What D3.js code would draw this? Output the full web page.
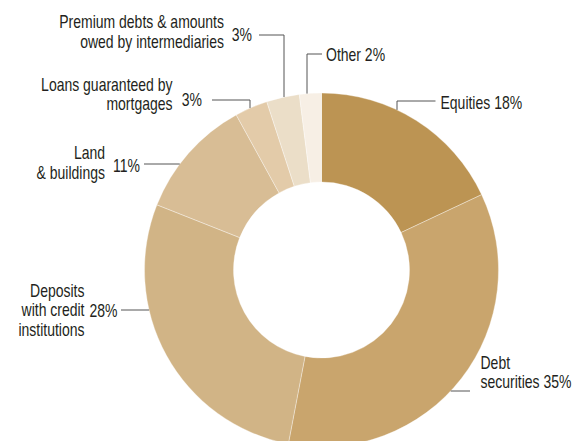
<!DOCTYPE html>
<html>
<head>
<meta charset="utf-8">
<script src="https://cdn.jsdelivr.net/npm/d3@7/dist/d3.min.js"></script>
<style>
  html, body { margin: 0; padding: 0; background: #fff; }
  svg { display: block; }
  text { font-family: "Liberation Sans", Arial, sans-serif; font-size: 17.5px; fill: #231f20; }
</style>
</head>
<body>
<script>
// Asset allocation shares (percent), clockwise from 12 o'clock
const categories = [
  "Equities",
  "Debt securities",
  "Deposits with credit institutions",
  "Land & buildings",
  "Loans guaranteed by mortgages",
  "Premium debts & amounts owed by intermediaries",
  "Other"
];
const shares = [18, 35, 28, 11, 3, 3, 2];
const colors = ["#bc9453", "#c9a56d", "#d1b486", "#d8bd95", "#e3cba9", "#ebdec8", "#f7efe5"];

// Label text lines for each category
const labelLines = [
  ["Equities"],
  ["Debt", "securities"],
  ["Deposits", "with credit", "institutions"],
  ["Land", "& buildings"],
  ["Loans guaranteed by", "mortgages"],
  ["Premium debts & amounts", "owed by intermediaries"],
  ["Other"]
];

const W = 573, H = 441;
const cx = 321.5, cy = 270, R = 177, r = 88;
const squeeze = 0.8; // condensed lettering

const svg = d3.select("body").append("svg").attr("width", W).attr("height", H);
const g = svg.append("g").attr("transform", `translate(${cx},${cy})`);

const data = categories.map((c, i) => ({ name: c, value: shares[i], color: colors[i], lines: labelLines[i] }));

const pie = d3.pie().value(d => d.value).sort(null);
const arc = d3.arc().innerRadius(r).outerRadius(R);
const arcs = pie(data);

g.selectAll("path.slice")
  .data(arcs)
  .enter().append("path")
  .attr("class", "slice")
  .attr("d", arc)
  .attr("fill", d => d.data.color)
  .attr("stroke", "#ffffff")
  .attr("stroke-opacity", 0.7)
  .attr("stroke-width", 0.5);

// Leader layout relative to the centre: elbow point, free end, and how the line meets the ring
const leaders = [
  { elbow: [75.5, -169], end: [114, -169], dir: "v", text: { x: 119, y: -161, mode: "inline" } },
  { elbow: [148.5, 121], dir: "hR", text: { x: 159, y: 118, mode: "lastline" } },
  { elbow: [-200.5, 40], dir: "hL", text: { mode: "side", valueX: -204, valueY: 46.7, labelX: -237, y: 26.7 } },
  { elbow: [-177.5, -106], dir: "hL", text: { mode: "side", valueX: -181.5, valueY: -98.5, labelX: -216.5, y: -111 } },
  { elbow: [-71.5, -170], end: [-109.5, -170], dir: "v", text: { mode: "side", valueX: -119.5, valueY: -164.5, labelX: -149, y: -179.5 } },
  { elbow: [-37.5, -235], end: [-62.5, -235], dir: "v", text: { mode: "side", valueX: -69.5, valueY: -229.5, labelX: -97.5, y: -242 } },
  { elbow: [-14.5, -216], end: [0.5, -216], dir: "v", text: { x: 4.5, y: -209.5, mode: "inline" } }
];

const lineH = 19.5;
const lg = g.append("g");

function label(x, y, str, anchor) {
  lg.append("text")
    .attr("transform", `translate(${x},${y}) scale(${squeeze},1)`)
    .attr("text-anchor", anchor || "start")
    .text(str);
}

arcs.forEach((a, i) => {
  const L = leaders[i];
  const d = a.data;
  const pct = d.value + "%";
  let pts;
  if (L.dir === "v") {
    // vertical drop from the elbow onto the outer edge of the ring
    const x = L.elbow[0];
    pts = [L.end, L.elbow, [x, -Math.sqrt(R * R - x * x)]];
  } else if (L.dir === "hL") {
    const y = L.elbow[1];
    pts = [L.elbow, [-Math.sqrt(R * R - y * y), y]];
  } else {
    const y = L.elbow[1];
    pts = [L.elbow, [Math.sqrt(R * R - y * y), y]];
  }
  lg.append("path")
    .attr("d", d3.line()(pts))
    .attr("fill", "none")
    .attr("stroke", "#555")
    .attr("stroke-width", 1);

  const t = L.text;
  if (t.mode === "inline") {
    label(t.x, t.y, d.lines[0] + " " + pct);
  } else if (t.mode === "lastline") {
    d.lines.forEach((ln, k) => {
      const last = k === d.lines.length - 1;
      label(t.x, t.y - (d.lines.length - 1 - k) * lineH, last ? ln + " " + pct : ln);
    });
  } else {
    label(t.valueX, t.valueY, pct, "end");
    d.lines.forEach((ln, k) => label(t.labelX, t.y + k * lineH, ln, "end"));
  }
});
</script>
</body>
</html>
